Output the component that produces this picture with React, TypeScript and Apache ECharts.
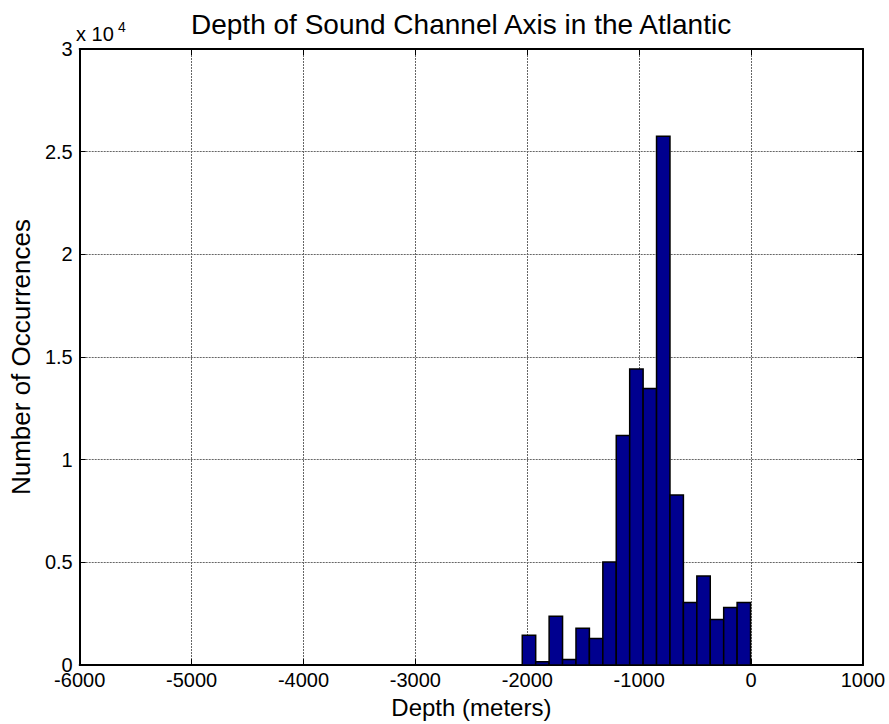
import React, { useEffect, useRef } from "react";
import * as echarts from "echarts";

const binEdges = [-2045, -1925, -1805, -1685, -1565, -1445, -1325, -1205, -1085, -965, -845, -725, -605, -485, -365, -245, -125, -5];
const counts = [1450, 160, 2380, 270, 1800, 1290, 5020, 11180, 14420, 13470, 25750, 8280, 3050, 4340, 2220, 2810, 3050];
const xTicks = { min: -6000, max: 1000, interval: 1000 };
const yTicks = { min: 0, max: 30000, interval: 5000 };
const titleText = "Depth of Sound Channel Axis in the Atlantic";
const xName = "Depth (meters)";
const yName = "Number of Occurrences";

const FONT = "'Liberation Sans', Arial, Helvetica, sans-serif";

export default function App() {
  const ref = useRef<HTMLDivElement>(null);
  useEffect(() => {
    if (!ref.current) return;
    const chart = echarts.init(ref.current, undefined, { renderer: "svg" });
    const data = counts.map((c, i) => [binEdges[i], binEdges[i + 1], c]);
    const split = { show: true, lineStyle: { color: "#666", width: 1, type: [2, 1] as any } };
    const tick = { show: true, inside: true, length: 6, lineStyle: { color: "#000", width: 1 } };
    const line = { show: true, onZero: false, lineStyle: { color: "#000", width: 2 } };
    chart.setOption({
      animation: false,
      backgroundColor: "#fff",
      textStyle: { fontFamily: FONT },
      grid: { left: 75, right: 26, top: 49, bottom: 54, containLabel: false },
      xAxis: [
        {
          type: "value", position: "bottom", ...xTicks,
          axisLine: line, axisTick: tick, splitLine: split,
          axisLabel: { fontSize: 20, lineHeight: 18, color: "#000", margin: 6, fontFamily: FONT, formatter: (v: number) => String(v) },
          name: xName, nameLocation: "middle", nameGap: 19,
          nameTextStyle: { fontSize: 24, color: "#000", fontFamily: FONT },
        },
        {
          type: "value", position: "top", ...xTicks,
          axisLine: line, axisTick: tick, splitLine: { show: false },
          axisLabel: { show: false },
        },
      ],
      yAxis: [
        {
          type: "value", position: "left", ...yTicks,
          axisLine: line, axisTick: tick, splitLine: split,
          axisLabel: {
            fontSize: 20, lineHeight: 14, color: "#000", margin: 7, fontFamily: FONT,
            formatter: (v: number) => String(v / 10000),
          },
          name: yName, nameLocation: "middle", nameGap: 40,
          nameTextStyle: { fontSize: 26, color: "#000", fontFamily: FONT },
        },
        {
          type: "value", position: "right", ...yTicks,
          axisLine: line, axisTick: tick, splitLine: { show: false },
          axisLabel: { show: false },
        },
      ],
      series: [
        {
          type: "custom",
          xAxisIndex: 0,
          yAxisIndex: 0,
          data,
          encode: { x: [0, 1], y: 2 },
          renderItem: (params: any, api: any) => {
            const x0 = api.value(0), x1 = api.value(1), v = api.value(2);
            const p0 = api.coord([x0, v]);
            const p1 = api.coord([x1, 0]);
            return {
              type: "rect",
              shape: { x: p0[0], y: p0[1], width: p1[0] - p0[0], height: p1[1] - p0[1] },
              style: { fill: "#00008F", stroke: "#000", lineWidth: 1.5 },
            };
          },
        },
      ],
      graphic: [
        {
          type: "text", x: 191, y: 24,
          style: { text: titleText, font: `28px ${FONT}`, fill: "#000", align: "left", verticalAlign: "middle" },
        },
        {
          type: "text", x: 76, y: 34,
          style: { text: "x 10", font: `20px ${FONT}`, fill: "#000", align: "left", verticalAlign: "middle" },
        },
        {
          type: "text", x: 118, y: 27,
          style: { text: "4", font: `14px ${FONT}`, fill: "#000", align: "left", verticalAlign: "middle" },
        },
      ],
    });
    return () => chart.dispose();
  }, []);
  return <div ref={ref} style={{ width: 889, height: 724, position: "absolute", left: 0, top: 0 }} />;
}
